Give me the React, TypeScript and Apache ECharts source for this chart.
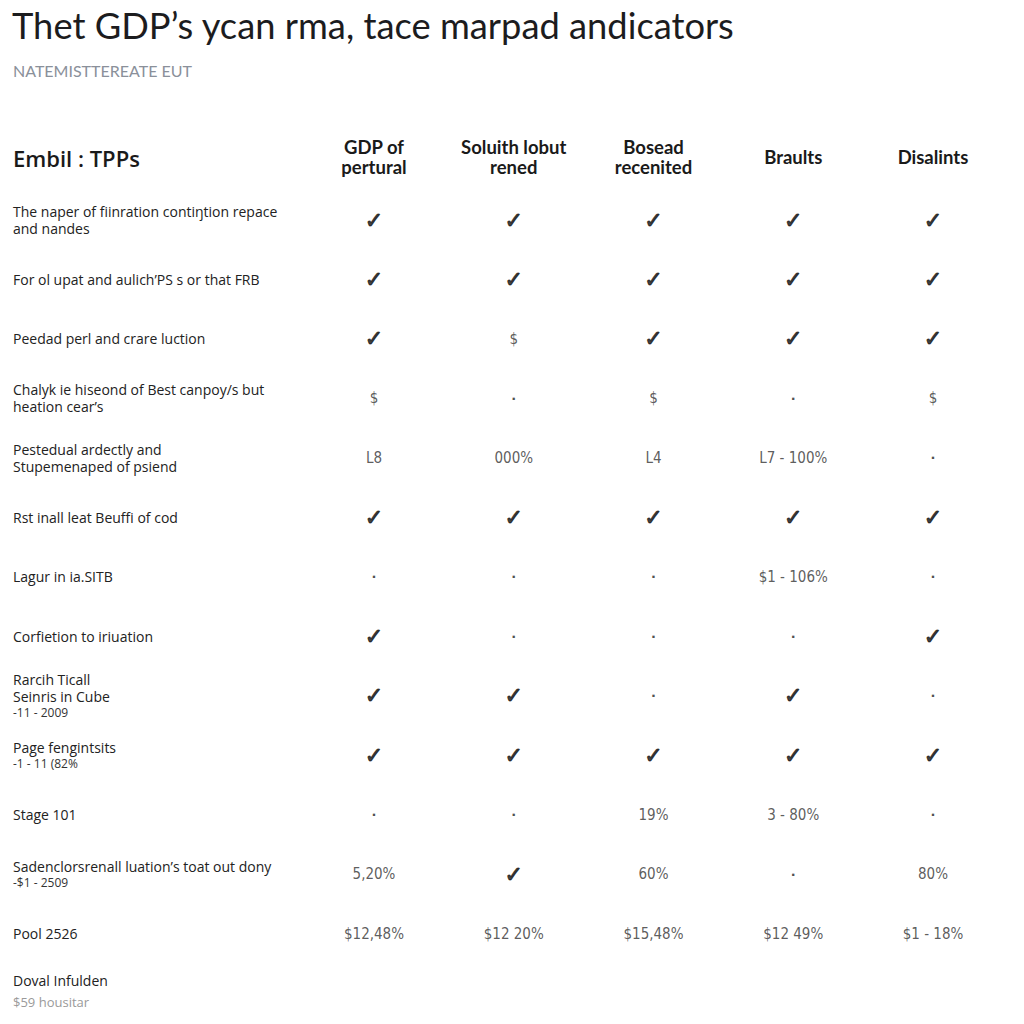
import React, { useEffect, useRef } from "react";
import * as echarts from "echarts";

const titleText = "Thet GDP\u2019s ycan rma, tace marpad andicators";
const subtitleText = "NATEMISTTEREATE EUT";
const cornerHeader = "Embil : TPPs";

const columns = ["GDP of\npertural", "Soluith lobut\nrened", "Bosead\nrecenited", "Braults", "Disalints"];

const rowTitles = [
  "The naper of fiinration conti\u014Btion repace\nand nandes",
  "For ol upat and aulich\u2019PS s or that FRB",
  "Peedad perl and crare luction",
  "Chalyk ie hiseond of Best canpoy/s but\nheation cear\u2019s",
  "Pestedual ardectly and\nStupemenaped of psiend",
  "Rst inall leat Beuffi of cod",
  "Lagur in ia.SITB",
  "Corfietion to iriuation",
  "Rarcih Ticall\nSeinris in Cube",
  "Page fengintsits",
  "Stage 101",
  "Sadenclorsrenall luation\u2019s toat out dony",
  "Pool 2526",
  "Doval Infulden",
];
const rowNotes = ["", "", "", "", "", "", "", "", "-11 - 2009", "-1 - 11 (82%", "", "-$1 - 2509", "", "$59 housitar"];

const gdpPertural = ["✓", "✓", "✓", "$", "L8", "✓", "·", "✓", "✓", "✓", "·", "5,20%", "$12,48%", ""];
const soluithLobut = ["✓", "✓", "$", "·", "000%", "✓", "·", "·", "✓", "✓", "·", "✓", "$12 20%", ""];
const boseadRecenited = ["✓", "✓", "✓", "$", "L4", "✓", "·", "·", "·", "✓", "19%", "60%", "$15,48%", ""];
const braults = ["✓", "✓", "✓", "·", "L7 - 100%", "✓", "$1 - 106%", "·", "✓", "✓", "3 - 80%", "·", "$12 49%", ""];
const disalints = ["✓", "✓", "✓", "$", "·", "✓", "·", "✓", "·", "✓", "·", "80%", "$1 - 18%", ""];

const columnValues = [gdpPertural, soluithLobut, boseadRecenited, braults, disalints];

export default function App() {
  const ref = useRef<HTMLDivElement>(null);
  useEffect(() => {
    if (!ref.current) return;
    const chart = echarts.init(ref.current, null, { renderer: "svg" });
    const cells: any[] = [];
    columnValues.forEach((col, ci) => {
      col.forEach((v, ri) => {
        if (v !== "") cells.push({ value: [ci, ri], text: v });
      });
    });
    const lastRow = rowTitles.length - 1;
    chart.setOption({
      animation: false,
      backgroundColor: "#ffffff",
      title: [
        {
          text: titleText,
          left: 7,
          top: 2,
          textStyle: { fontFamily: "Lato", fontWeight: "normal", fontSize: 36.3, color: "#1c1c1e" },
        },
        {
          text: subtitleText,
          left: 8,
          top: 57,
          textStyle: { fontFamily: "Lato", fontWeight: "normal", fontSize: 16, color: "#8a909a" },
        },
        {
          text: cornerHeader,
          left: 8,
          top: 142,
          textStyle: { fontFamily: "Open Sans", fontWeight: 600, fontSize: 22, color: "#1a1a1a" },
        },
      ],
      grid: { left: 374, right: 91, top: 220, bottom: 31, containLabel: false },
      xAxis: {
        type: "category",
        data: columns,
        position: "top",
        boundaryGap: false,
        axisLine: { show: false },
        axisTick: { show: false },
        splitLine: { show: false },
        axisLabel: {
          interval: 0,
          margin: 63,
          verticalAlign: "middle",
          fontFamily: "Lato",
          fontWeight: "bold",
          fontSize: 18.5,
          lineHeight: 20,
          color: "#1a1a1a",
        },
      },
      yAxis: {
        type: "category",
        data: rowTitles,
        inverse: true,
        boundaryGap: false,
        axisLine: { show: false },
        axisTick: { show: false },
        splitLine: { show: false },
        axisLabel: {
          interval: 0,
          margin: 361,
          align: "left",
          formatter: (val: string, idx: number) => {
            const note = rowNotes[idx];
            let s = "{a|" + val + "}";
            if (note) s += "\n" + (idx === lastRow ? "{g|" + note + "}" : "{n|" + note + "}");
            return s;
          },
          rich: {
            a: { fontFamily: "Open Sans", fontSize: 14, lineHeight: 17, color: "#222222" },
            n: { fontFamily: "Open Sans", fontSize: 12, lineHeight: 15, color: "#333333" },
            g: { fontFamily: "Open Sans", fontSize: 13, lineHeight: 25, color: "#9a9a9a" },
          },
        },
      },
      series: [
        {
          type: "scatter",
          data: cells,
          symbolSize: 1,
          itemStyle: { color: "rgba(0,0,0,0)" },
          label: {
            show: true,
            position: "inside",
            formatter: (p: any) => {
              const t = p.data.text;
              if (t === "✓") return "{c|✓}";
              if (t === "·") return "{d|·}";
              return "{t|" + t + "}";
            },
            rich: {
              c: {
                fontFamily: "DejaVu Sans",
                fontSize: 22,
                color: "#111111",
                textBorderColor: "#111111",
                textBorderWidth: 1.1,
              },
              d: { fontFamily: "DejaVu Sans", fontWeight: "bold", fontSize: 13, color: "#222222" },
              t: {
                fontFamily: "'Liberation Sans Narrow', 'Arial Narrow', 'DejaVu Sans Condensed', sans-serif",
                fontSize: 15,
                color: "#333333",
              },
            },
          },
        },
      ],
    });
    return () => chart.dispose();
  }, []);
  return (
    <div
      ref={ref}
      style={{ position: "fixed", left: 0, top: 0, width: 1024, height: 1024, background: "#fff" }}
    />
  );
}
